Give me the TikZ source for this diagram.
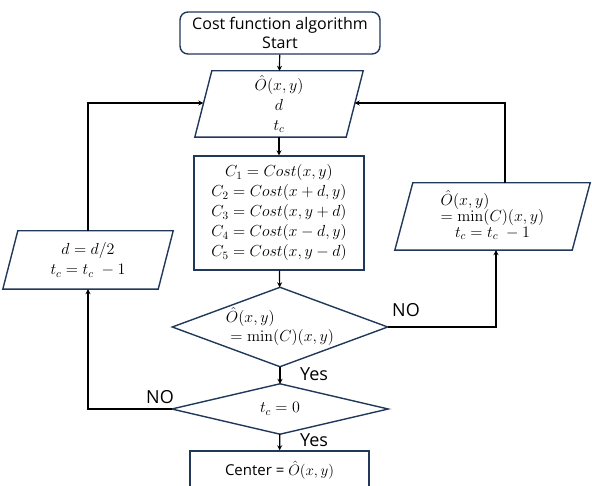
\RequirePackage{fix-cm}
\documentclass[tikz,border=0pt]{standalone}
\usepackage[no-math]{fontspec}
\setsansfont{Open Sans}
\usetikzlibrary{calc,arrows.meta}
\definecolor{shapeblue}{RGB}{32,56,90}
\newcommand\myparal[2]{\draw[shp] ($(#1.north west)+(#2,0)$) -- (#1.north east) -- ($(#1.south east)-(#2,0)$) -- (#1.south west) -- cycle;}
\newcommand\mydiam[1]{\draw[shp] (#1.north) -- (#1.east) -- (#1.south) -- (#1.west) -- cycle;}
\tikzset{
  shp/.style={draw=shapeblue, line width=1.4pt},
  ghost/.style={inner sep=0pt, align=center, font=\fontsize{16}{20}\selectfont},
  boxn/.style={ghost, shp},
  arr/.style={-{Stealth[length=5pt,width=5pt]}, line width=1.2pt},
  lbl/.style={font=\sffamily\fontsize{18}{20}\selectfont, inner sep=0pt}
}
\begin{document}
\begin{tikzpicture}[x=1pt,y=-1pt]
\useasboundingbox (0,0) rectangle (592,486);
\clip (0,0) rectangle (592,486);
% nodes
\node[boxn, rounded corners=8pt, minimum width=200pt, minimum height=42pt, font=\sffamily\fontsize{16}{19}\selectfont] (start) at (280,33) {Cost function algorithm\\Start};
\node[ghost, minimum width=168pt, minimum height=66pt] (p1) at (279,104) {$\hat{O}(x,y)$\\$d$\\$t_c$};
\myparal{p1}{17}
\node[boxn, minimum width=170pt, minimum height=114pt] (proc) at (279,213) {%
$C_1 = Cost(x,y)$\\$C_2 = Cost(x+d,y)$\\$C_3 = Cost(x,y+d)$\\$C_4 = Cost(x-d,y)$\\$C_5 = Cost(x,y-d)$};
\node[ghost, minimum width=215pt, minimum height=79pt] (d1) at (280,327) {%
\begin{tabular}{@{}l@{}}$\hat{O}(x,y)$\\[-1pt]$\;= \min(C)(x,y)$\end{tabular}};
\mydiam{d1}
\node[ghost, minimum width=216pt, minimum height=50pt] (d2) at (280,409) {$t_c = 0$};
\mydiam{d2}
\node[boxn, minimum width=179pt, minimum height=38pt, font=\fontsize{15}{18}\selectfont] (center) at (279.5,470) {\sffamily Center = $\hat{O}(x,y)$};
\node[ghost, minimum width=170pt, minimum height=58pt] (lp) at (88,260) {$d = d/2$\\$t_c = t_c\;-1$};
\myparal{lp}{15}
\node[ghost, minimum width=195pt, minimum height=67pt] (rp) at (492.5,216.5) {%
\begin{tabular}{@{}l@{}}$\hat{O}(x,y)$\\[-4pt]$= \min(C)(x,y)$\\[-4pt]\multicolumn{1}{@{}c@{}}{$t_c = t_c\;-1$}\end{tabular}};
\myparal{rp}{18}
% coordinates on slanted sides
\coordinate (p1l) at ($(p1.north west)!0.5!(p1.south west)+(8.5,-1)$);
\coordinate (p1r) at ($(p1.north east)!0.5!(p1.south east)+(-8.5,-1)$);
% connectors
\draw[arr] (start) -- (p1);
\draw[arr] (p1) -- (proc);
\draw[arr] (proc) -- (d1);
\draw[arr] (d1) -- (d2);
\draw[arr] (d2) -- (center);
\draw[arr] (d1.east) -| ($(rp.south)+(3.5,0)$);
\draw[arr] ($(rp.north)+(12.5,0)$) |- (p1r);
\draw[arr] (d2.west) -| (lp.south);
\draw[arr] (lp.north) |- (p1l);
% labels
\node[lbl] (no1) at (406,310) {NO};
\node[lbl] (yes1) at (314,374) {Yes};
\node[lbl] (no2) at (160,397) {NO};
\node[lbl] (yes2) at (314,440) {Yes};
\end{tikzpicture}
\end{document}
